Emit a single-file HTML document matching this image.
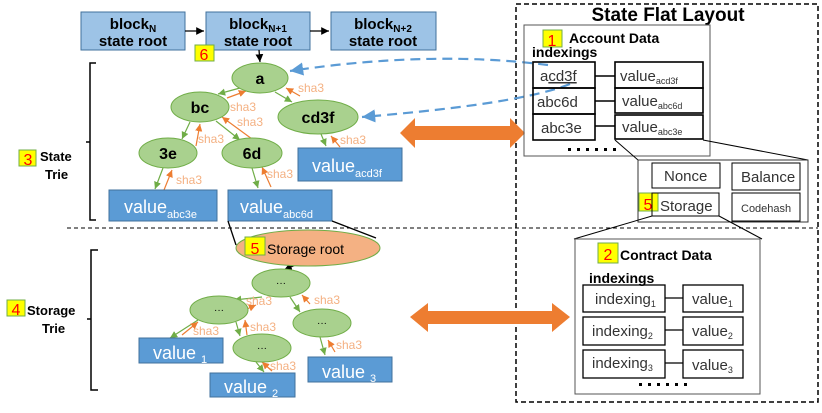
<!DOCTYPE html>
<html><head><meta charset="utf-8"><style>
body{margin:0;background:#fff}
svg text{font-family:"Liberation Sans","DejaVu Sans",sans-serif}
</style></head><body>
<svg width="822" height="408" viewBox="0 0 822 408" xmlns="http://www.w3.org/2000/svg">
<defs>
<marker id="ak" markerWidth="8" markerHeight="8" refX="6" refY="3" orient="auto"><path d="M0,0 L6,3 L0,6z" fill="#000"/></marker>
<marker id="ag" markerWidth="8" markerHeight="8" refX="6" refY="3" orient="auto"><path d="M0,0 L6,3 L0,6z" fill="#70ad47"/></marker>
<marker id="ao" markerWidth="8" markerHeight="8" refX="6" refY="3" orient="auto"><path d="M0,0 L6,3 L0,6z" fill="#ed7d31"/></marker>
<marker id="ab" markerWidth="8" markerHeight="8" refX="6" refY="3" orient="auto"><path d="M0,0 L6,3 L0,6z" fill="#5b9bd5"/></marker>
</defs>
<g stroke="#41719c" stroke-width="1" fill="#9dc3e6">
<rect x="81" y="12" width="104" height="38"/><rect x="206" y="12" width="104" height="38"/><rect x="331" y="12" width="105" height="38"/>
</g>
<g font-weight="bold" font-size="15" text-anchor="middle" fill="#000">
<text x="133" y="29">block<tspan font-size="10" dy="3">N</tspan></text><text x="133" y="46">state root</text>
<text x="258" y="29">block<tspan font-size="10" dy="3">N+1</tspan></text><text x="258" y="46">state root</text>
<text x="383" y="29">block<tspan font-size="10" dy="3">N+2</tspan></text><text x="383" y="46">state root</text>
</g>
<g stroke="#000" stroke-width="1.3" marker-end="url(#ak)">
<line x1="185" y1="31" x2="204" y2="31"/><line x1="310" y1="31" x2="329" y2="31"/><line x1="259" y1="50" x2="260" y2="62"/>
<line x1="302" y1="262" x2="284" y2="270"/>
</g>
<g fill="#ffff00" stroke="#70ad47"><rect x="195" y="45" width="19" height="16"/><rect x="19" y="150" width="17" height="16"/><rect x="7" y="300" width="18" height="16"/><rect x="543" y="30" width="19" height="17"/><rect x="639" y="193" width="19" height="18"/><rect x="598" y="243" width="20" height="20"/></g>
<g fill="#ff0000" font-size="16" text-anchor="middle"><text x="204" y="60">6</text><text x="28" y="165">3</text><text x="16" y="315">4</text><text x="552" y="46">1</text><text x="648" y="210">5</text><text x="608" y="260">2</text></g>
<g stroke="#000" stroke-width="1.5" fill="none"><path d="M96,63 H90 V220 H96 M90,142 H86"/><path d="M98,250 H91 V390 H98 M91,319 H87"/></g>
<g font-weight="bold" font-size="13"><text x="40" y="161">State</text><text x="45" y="179">Trie</text><text x="27" y="315">Storage</text><text x="42" y="333">Trie</text></g>
<line x1="67" y1="228" x2="818" y2="228" stroke="#000" stroke-dasharray="4,3"/>
<rect x="516" y="4" width="302" height="398" fill="none" stroke="#000" stroke-width="1.5" stroke-dasharray="5,3"/>
<text x="668" y="21" text-anchor="middle" font-size="19" font-weight="bold">State Flat Layout</text>
<g stroke="#70ad47" stroke-width="1.2" marker-end="url(#ag)">
<line x1="240" y1="88" x2="218" y2="94"/><line x1="275" y1="92" x2="292" y2="102"/><line x1="190" y1="122" x2="182" y2="139"/><line x1="216" y1="121" x2="240" y2="140"/><line x1="321" y1="134" x2="326" y2="146"/><line x1="163" y1="168" x2="155" y2="189"/><line x1="252" y1="168" x2="258" y2="188"/>
<line x1="262" y1="297" x2="234" y2="300"/><line x1="290" y1="297" x2="300" y2="312"/><line x1="198" y1="320" x2="170" y2="338"/><line x1="236" y1="322" x2="240" y2="336"/><line x1="320" y1="337" x2="325" y2="355"/><line x1="256" y1="362" x2="264" y2="372"/>
</g>
<g stroke="#ed7d31" stroke-width="1.2" marker-end="url(#ao)">
<line x1="227" y1="98" x2="246" y2="91"/><line x1="300" y1="96" x2="286" y2="88"/><line x1="196" y1="146" x2="200" y2="124"/><line x1="252" y1="139" x2="222" y2="117"/><line x1="340" y1="147" x2="331" y2="136"/><line x1="164" y1="190" x2="172" y2="170"/><line x1="271" y1="187" x2="262" y2="167"/>
<line x1="238" y1="313" x2="256" y2="305"/><line x1="310" y1="304" x2="302" y2="295"/><line x1="182" y1="335" x2="198" y2="322"/><line x1="247" y1="335" x2="245" y2="320"/><line x1="335" y1="352" x2="328" y2="340"/><line x1="272" y1="371" x2="262" y2="362"/>
</g>
<g fill="#f4b183" font-size="12"><text x="298" y="92">sha3</text><text x="230" y="111">sha3</text><text x="237" y="126">sha3</text><text x="198" y="143">sha3</text><text x="340" y="144">sha3</text><text x="176" y="184">sha3</text><text x="267" y="178">sha3</text>
<text x="246" y="305">sha3</text><text x="314" y="304">sha3</text><text x="193" y="335">sha3</text><text x="250" y="331">sha3</text><text x="336" y="349">sha3</text><text x="270" y="370">sha3</text></g>
<g fill="#a9d18e" stroke="#70ad47"><ellipse cx="260" cy="78" rx="28" ry="15"/><ellipse cx="200" cy="107" rx="29" ry="15"/><ellipse cx="318" cy="117" rx="40" ry="17"/><ellipse cx="168" cy="153" rx="29" ry="15"/><ellipse cx="252" cy="153" rx="30" ry="15"/>
<ellipse cx="281" cy="283" rx="29" ry="14"/><ellipse cx="219" cy="310" rx="29" ry="14"/><ellipse cx="322" cy="323" rx="29" ry="14"/><ellipse cx="262" cy="348" rx="29" ry="14"/></g>
<g font-weight="bold" font-size="16" text-anchor="middle"><text x="260" y="84">a</text><text x="200" y="113">bc</text><text x="318" y="123">cd3f</text><text x="168" y="159">3e</text><text x="252" y="159">6d</text></g>
<g font-size="10" text-anchor="middle"><text x="281" y="286">···</text><text x="219" y="313">···</text><text x="322" y="326">···</text><text x="262" y="351">···</text></g>
<g fill="#5b9bd5" stroke="#41719c"><rect x="298" y="148" width="104" height="33"/><rect x="109" y="190" width="108" height="31"/><rect x="228" y="190" width="104" height="31"/><rect x="139" y="338" width="84" height="25"/><rect x="210" y="373" width="85" height="24"/><rect x="308" y="357" width="84" height="25"/></g>
<g fill="#fff" font-size="18"><text x="312" y="172">value<tspan font-size="11" dy="5">acd3f</tspan></text><text x="124" y="213">value<tspan font-size="11" dy="5">abc3e</tspan></text><text x="240" y="213">value<tspan font-size="11" dy="5">abc6d</tspan></text>
<text x="153" y="359">value <tspan font-size="11" dy="4">1</tspan></text><text x="224" y="393">value <tspan font-size="11" dy="4">2</tspan></text><text x="322" y="378">value <tspan font-size="11" dy="4">3</tspan></text></g>
<g stroke="#000" stroke-width="1.3"><line x1="228" y1="221" x2="236" y2="245"/><line x1="332" y1="221" x2="376" y2="238"/></g>
<ellipse cx="308" cy="248" rx="72" ry="18" fill="#f4b183" stroke="#70ad47"/>
<rect x="245" y="237" width="20" height="18" fill="#ffff00" stroke="#70ad47"/>
<text x="255" y="254" fill="#ff0000" font-size="16" text-anchor="middle">5</text>
<text x="267" y="254" font-size="14">Storage root</text>
<g stroke="#5b9bd5" stroke-width="2.2" fill="none" stroke-dasharray="10,6" marker-end="url(#ab)"><path d="M548,65 Q430,50 290,71"/><path d="M570,84 Q520,104 362,117"/></g>
<g fill="#ed7d31"><path d="M400,133 L415,118 V126 H510 V118 L525,133 L510,148 V140 H415 V148z"/><path d="M410,317 L428,303 V311 H552 V303 L570,317 L552,332 V324 H428 V332z"/></g>
<g fill="none" stroke="#000"><rect x="524" y="25" width="186" height="131" stroke="#555"/>
<g stroke-width="1.6"><rect x="533" y="62" width="62" height="26"/><rect x="533" y="88" width="62" height="26"/><rect x="533" y="114" width="62" height="26"/><rect x="615" y="62" width="88" height="26"/><rect x="615" y="88" width="88" height="25"/><rect x="615" y="115" width="88" height="24"/>
<line x1="595" y1="76" x2="615" y2="76"/><line x1="595" y1="101" x2="615" y2="101"/><line x1="595" y1="126" x2="615" y2="126"/></g>
<line x1="615" y1="140" x2="638" y2="160"/><line x1="703" y1="140" x2="808" y2="160"/>
<rect x="638" y="160" width="170" height="62" stroke="#333"/>
<rect x="652" y="163" width="68" height="25"/><rect x="732" y="163" width="68" height="27"/><rect x="652" y="193" width="67" height="23"/><rect x="732" y="193" width="68" height="28"/>
<line x1="652" y1="216" x2="574" y2="239"/><line x1="719" y1="216" x2="762" y2="239"/>
<rect x="575" y="239" width="185" height="155" stroke="#555"/>
<g stroke-width="1.3"><rect x="583" y="285" width="82" height="27"/><rect x="583" y="317" width="82" height="28"/><rect x="583" y="350" width="82" height="28"/><rect x="683" y="285" width="60" height="27"/><rect x="683" y="317" width="60" height="28"/><rect x="683" y="350" width="60" height="28"/>
<line x1="665" y1="298" x2="683" y2="298"/><line x1="665" y1="330" x2="683" y2="330"/><line x1="665" y1="363" x2="683" y2="363"/></g>
</g>
<g font-weight="bold" font-size="14"><text x="569" y="43">Account Data</text><text x="532" y="57">indexings</text><text x="620" y="260">Contract Data</text><text x="589" y="283">indexings</text></g>
<g fill="#333" font-size="15"><text x="540" y="81">a<tspan text-decoration="underline">cd3f</tspan></text><text x="537" y="107">abc6d</text><text x="541" y="133">abc3e</text>
<text x="620" y="81">value<tspan font-size="9" dy="3">acd3f</tspan></text><text x="622" y="106">value<tspan font-size="9" dy="3">abc6d</tspan></text><text x="622" y="132">value<tspan font-size="9" dy="3">abc3e</tspan></text>
<text x="664" y="181">Nonce</text><text x="741" y="182">Balance</text><text x="660" y="211">Storage</text><text x="741" y="212" font-size="11">Codehash</text>
<text x="595" y="304">indexing<tspan font-size="9" dy="3">1</tspan></text><text x="592" y="336">indexing<tspan font-size="9" dy="3">2</tspan></text><text x="592" y="368">indexing<tspan font-size="9" dy="3">3</tspan></text>
<text x="692" y="304">value<tspan font-size="9" dy="3">1</tspan></text><text x="692" y="336">value<tspan font-size="9" dy="3">2</tspan></text><text x="692" y="370">value<tspan font-size="9" dy="3">3</tspan></text></g>
<g fill="#000"><rect x="568" y="148" width="3" height="3"/><rect x="577" y="148" width="3" height="3"/><rect x="586" y="148" width="3" height="3"/><rect x="595" y="148" width="3" height="3"/><rect x="604" y="148" width="3" height="3"/><rect x="613" y="148" width="3" height="3"/>
<rect x="639" y="383" width="3" height="3"/><rect x="648" y="383" width="3" height="3"/><rect x="657" y="383" width="3" height="3"/><rect x="666" y="383" width="3" height="3"/><rect x="675" y="383" width="3" height="3"/><rect x="684" y="383" width="3" height="3"/></g>
</svg>
</body></html>
